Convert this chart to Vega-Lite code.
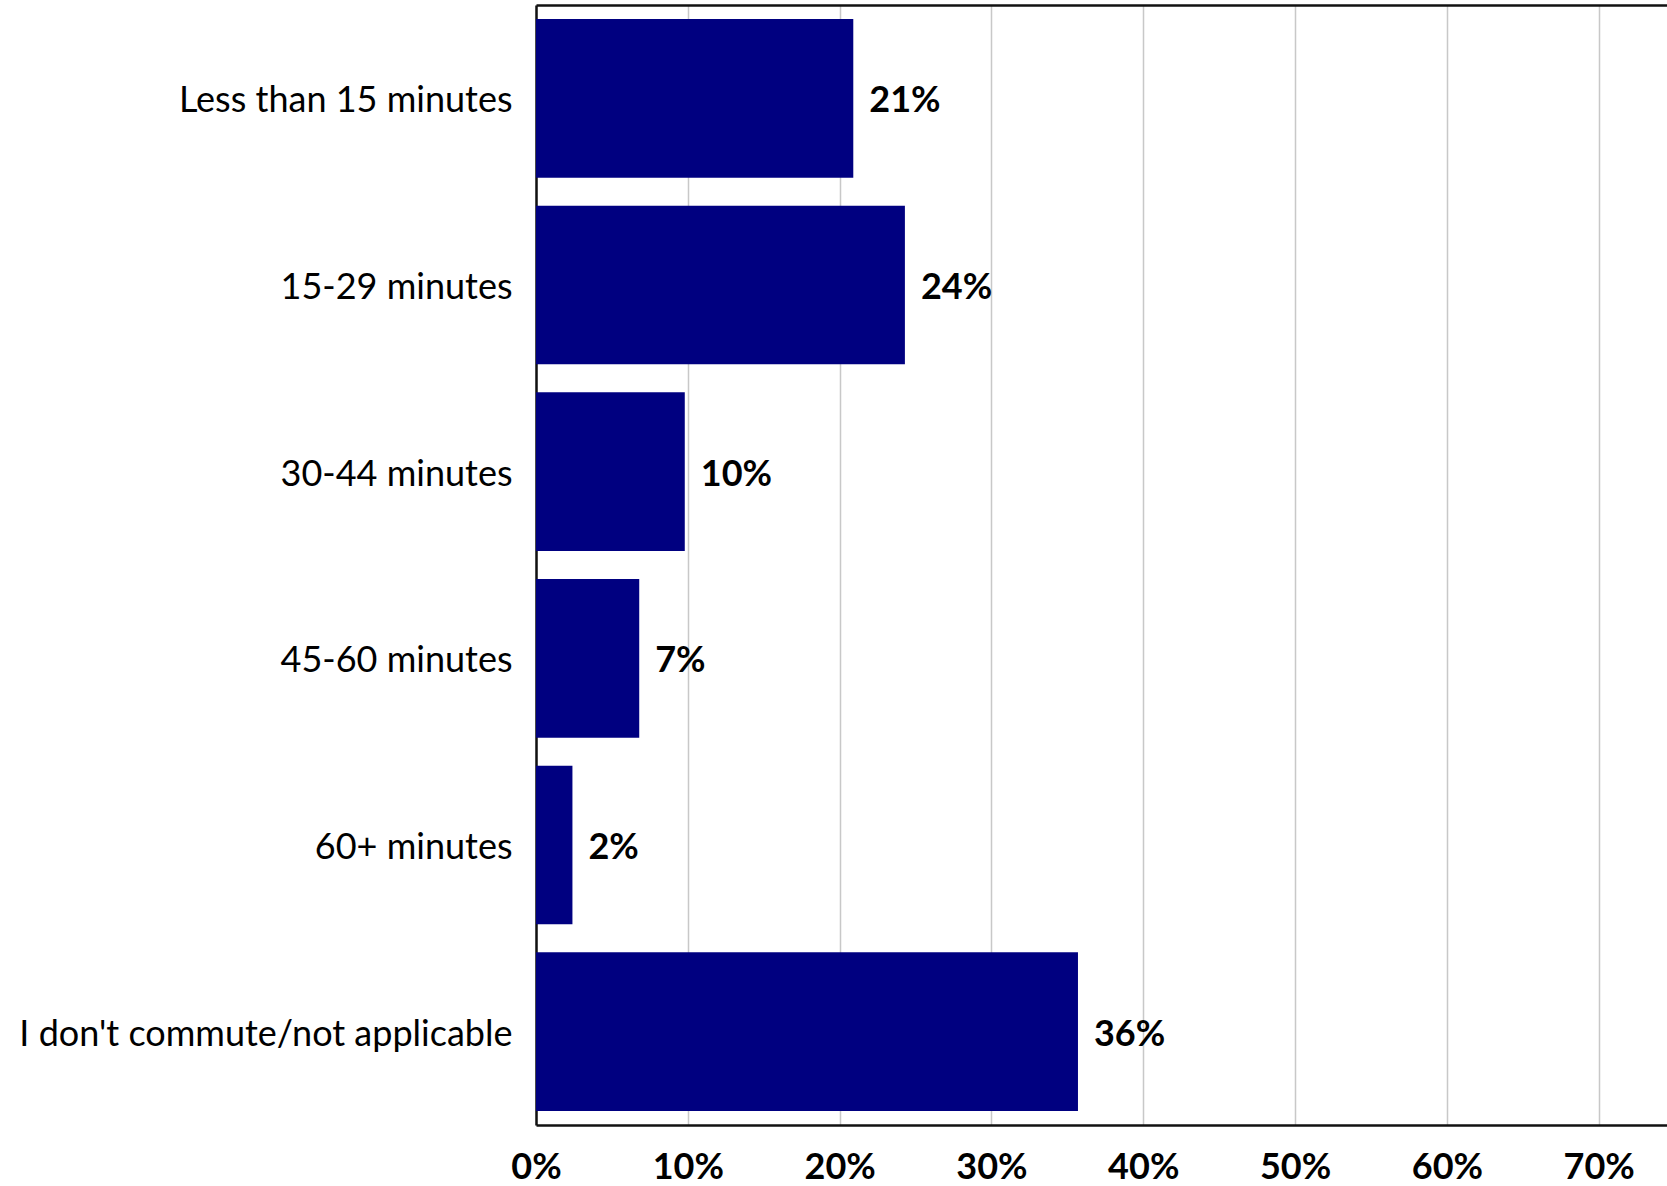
{
  "$schema": "https://vega.github.io/schema/vega-lite/v6.json",
  "autosize": {"type": "none"},
  "width": 1131,
  "height": 1120,
  "padding": {"left": 536, "top": 5, "right": 0, "bottom": 61},
  "background": "white",
  "config": {
    "view": {"stroke": null},
    "font": "Lato",
    "axis": {"labelFont": "Lato", "labelColor": "#000000"}
  },
  "data": {
    "values": [
      {"commute": "Less than 15 minutes", "share": 0.209},
      {"commute": "15-29 minutes", "share": 0.243},
      {"commute": "30-44 minutes", "share": 0.098},
      {"commute": "45-60 minutes", "share": 0.068},
      {"commute": "60+ minutes", "share": 0.024},
      {"commute": "I don't commute/not applicable", "share": 0.357}
    ]
  },
  "encoding": {
    "y": {
      "field": "commute",
      "type": "nominal",
      "sort": null,
      "title": null,
      "scale": {"paddingInner": 0.15, "paddingOuter": 0.075},
      "axis": {
        "ticks": false,
        "labelFontSize": 36,
        "labelPadding": 24,
        "labelOffset": 3,
        "labelLimit": 700,
        "domainColor": "#111111",
        "domainWidth": 2.5
      }
    }
  },
  "layer": [
    {
      "mark": {"type": "bar", "color": "#000080"},
      "encoding": {
        "x": {
          "field": "share",
          "type": "quantitative",
          "title": null,
          "scale": {"domain": [0, 0.745], "nice": false},
          "axis": {
            "values": [0, 0.1, 0.2, 0.3, 0.4, 0.5, 0.6, 0.7],
            "format": ".0%",
            "ticks": false,
            "labelFontSize": 36,
            "labelFontWeight": "bold",
            "labelPadding": 25,
            "labelFlush": false,
            "gridColor": "#c8c8c8",
            "gridWidth": 1.5,
            "domainColor": "#111111",
            "domainWidth": 2.5
          }
        }
      }
    },
    {
      "mark": {
        "type": "text",
        "align": "left",
        "baseline": "middle",
        "dx": 16,
        "dy": 3,
        "fontSize": 36,
        "fontWeight": "bold",
        "color": "#000000"
      },
      "encoding": {
        "x": {
          "field": "share",
          "type": "quantitative",
          "axis": {
            "orient": "top",
            "labels": false,
            "ticks": false,
            "grid": false,
            "title": null,
            "domainColor": "#111111",
            "domainWidth": 2.5
          }
        },
        "text": {"field": "share", "type": "quantitative", "format": ".0%"}
      }
    }
  ],
  "resolve": {"axis": {"x": "independent"}}
}
